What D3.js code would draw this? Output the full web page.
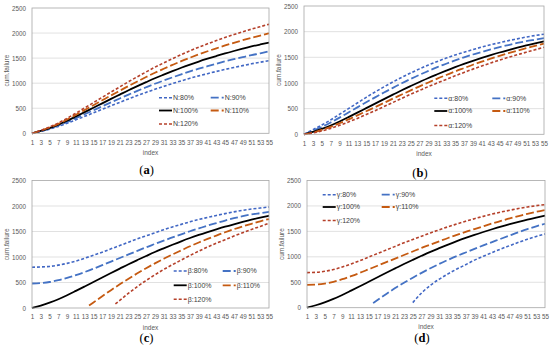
<!DOCTYPE html>
<html><head><meta charset="utf-8">
<script src="https://cdn.jsdelivr.net/npm/d3@7"></script>
<style>body{margin:0;background:#fff}svg{display:block}</style>
</head><body>
<svg id="chart" width="550" height="347"></svg>
<script>
// ---------- data ----------
const idx = [1,3,5,7,9,11,13,15,17,19,21,23,25,27,29,31,33,35,37,39,41,43,45,47,49,51,53,55];
const xTickLabels = idx;
const yTicks = [0,500,1000,1500,2000,2500];
const pctLabels = ["80%","90%","100%","110%","120%"];

// base curve (100%)
const base = [0,48,105,172,250,335,422,510,598,686,772,858,940,1020,1098,1170,1240,1308,1372,1432,1488,1542,1594,1642,1688,1732,1772,1810];

// (a) N
const n80  = [0,38,84,138,200,268,338,408,478,549,618,686,752,816,878,936,992,1046,1098,1146,1190,1234,1275,1314,1350,1386,1418,1448];
const n90  = [0,43,95,155,225,302,380,459,538,617,695,772,846,918,988,1053,1116,1177,1235,1289,1339,1388,1435,1478,1519,1559,1595,1635];
const n110 = [0,53,116,189,275,369,464,561,658,755,849,944,1034,1122,1208,1287,1364,1439,1509,1575,1637,1696,1753,1806,1857,1905,1949,1995];
const n120 = [0,58,126,206,300,402,506,612,718,823,926,1030,1128,1224,1318,1404,1488,1570,1646,1718,1786,1850,1913,1970,2026,2078,2127,2175];

// (b) alpha
const a80  = [0,90,180,280,390,500,610,720,825,925,1020,1110,1195,1275,1350,1420,1485,1545,1600,1650,1700,1745,1785,1825,1860,1895,1925,1950];
const a90  = [0,70,145,230,325,425,525,625,720,815,905,995,1080,1160,1235,1310,1375,1440,1500,1555,1605,1655,1700,1740,1780,1815,1845,1875];
const a110 = [0,35,85,145,215,290,370,450,530,612,695,775,855,935,1010,1085,1155,1225,1290,1355,1415,1475,1530,1580,1630,1680,1722,1765];
const a120 = [0,25,65,115,175,240,310,385,460,540,620,700,780,855,930,1000,1070,1140,1205,1270,1330,1390,1445,1500,1550,1600,1648,1695];

// (c) beta
const b80  = [800,805,815,840,875,920,975,1035,1095,1160,1225,1290,1355,1415,1475,1535,1590,1640,1690,1735,1775,1815,1850,1885,1915,1940,1960,1980];
const b90  = [480,490,510,545,590,645,705,770,840,910,980,1050,1120,1190,1255,1320,1385,1445,1505,1560,1615,1665,1715,1760,1800,1835,1860,1885];
const b110Idx = [14,15,17,19,21,23,25,27,29,31,33,35,37,39,41,43,45,47,49,51,53,55];
const b110 = [50,110,230,350,465,575,680,780,875,965,1050,1130,1210,1285,1355,1420,1485,1545,1600,1650,1700,1745];
const b120Idx = [20,21,23,25,27,29,31,33,35,37,39,41,43,45,47,49,51,53,55];
const b120 = [80,150,290,420,540,650,755,850,940,1030,1115,1195,1270,1340,1410,1475,1540,1600,1660];

// (d) gamma
const g80Idx = [25,27,29,31,33,35,37,39,41,43,45,47,49,51,53,55];
const g80  = [100,290,440,560,665,760,845,935,1010,1085,1155,1220,1285,1345,1400,1450];
const g90Idx = [16,17,19,21,23,25,27,29,31,33,35,37,39,41,43,45,47,49,51,53,55];
const g90  = [90,150,270,385,490,590,685,775,860,940,1015,1085,1155,1225,1290,1355,1420,1485,1545,1600,1650];
const g110 = [450,455,475,510,560,620,685,755,825,895,965,1035,1105,1175,1240,1305,1370,1430,1490,1545,1600,1655,1705,1755,1800,1845,1885,1920];
const g120 = [690,695,715,750,800,860,925,995,1065,1135,1205,1275,1340,1405,1470,1530,1590,1645,1700,1750,1795,1840,1880,1915,1950,1980,2005,2025];

// ---------- styles ----------
const styles = [
  {color:"#4167C4", dash:"3,2",  w:1.6},
  {color:"#4472C4", dash:"8,3",  w:1.8},
  {color:"#000000", dash:null,   w:1.8},
  {color:"#C55A11", dash:"8,3",  w:1.8},
  {color:"#B5402A", dash:"3,2",  w:1.6}
];

const panels = [
  {cap:"a", sym:"N", box:[32,269,8,133.3], series:[[idx,n80],[idx,n90],[idx,base],[idx,n110],[idx,n120]],
   leg:{x1:159, x2:210.7, ys:[97.7,110.5,124]}, capY:169.5, ylabX:7},
  {cap:"b", sym:"α", box:[304,544,6,134.3], series:[[idx,a80],[idx,a90],[idx,base],[idx,a110],[idx,a120]],
   leg:{x1:434.3, x2:492.3, ys:[98.3,111,125.5]}, capY:172.5, ylabX:279},
  {cap:"c", sym:"β", box:[32,269,180.5,308], series:[[idx,b80],[idx,b90],[idx,base],[b110Idx,b110],[b120Idx,b120]],
   leg:{x1:173.7, x2:222.7, ys:[271,285.3,299.3]}, capY:337.7, ylabX:7},
  {cap:"d", sym:"γ", box:[307,545,180.5,307.7], series:[[g80Idx,g80],[g90Idx,g90],[idx,base],[idx,g110],[idx,g120]],
   leg:{x1:322.7, x2:381.7, ys:[194.7,207,220.5]}, capY:337.7, ylabX:282}
];

const svg = d3.select("#chart");
const FONT = "'Liberation Sans', Arial, sans-serif";

panels.forEach(p => {
  const [L,R,T,B] = p.box;
  const x = d3.scaleLinear().domain([1,55]).range([L,R]);
  const y = d3.scaleLinear().domain([0,2500]).range([B,T]);
  const g = svg.append("g");

  // gridlines
  g.selectAll("line.grid").data(yTicks.filter(v=>v>0 && v<2500)).join("line")
    .attr("x1",L).attr("x2",R).attr("y1",d=>y(d)).attr("y2",d=>y(d))
    .attr("stroke","#D9D9D9").attr("stroke-width",0.8);

  // y axis labels
  const ya = d3.axisLeft(y).tickValues(yTicks).tickSize(0).tickPadding(6).tickFormat(d3.format("d"));
  const yg = g.append("g").attr("transform",`translate(${L},0)`).call(ya);
  yg.select(".domain").remove();
  yg.selectAll("text").attr("font-family",FONT).attr("font-size",6.3).attr("fill","#595959");

  // x axis labels
  const xa = d3.axisBottom(x).tickValues(xTickLabels).tickSize(0).tickPadding(7).tickFormat(d3.format("d"));
  const xg = g.append("g").attr("transform",`translate(0,${B})`).call(xa);
  xg.select(".domain").remove();
  xg.selectAll("text").attr("font-family",FONT).attr("font-size",6.3).attr("fill","#595959");

  // series
  const line = d3.line().x(d=>x(d[0])).y(d=>y(d[1])).curve(d3.curveMonotoneX);
  p.series.forEach((s,i) => {
    const pts = s[0].map((xi,k)=>[xi,s[1][k]]);
    const st = styles[i];
    g.append("path").datum(pts).attr("d",line).attr("fill","none")
      .attr("stroke",st.color).attr("stroke-width",st.w)
      .attr("stroke-dasharray",st.dash);
  });

  // plot border
  g.append("rect").attr("x",L).attr("y",T).attr("width",R-L).attr("height",B-T)
    .attr("fill","none").attr("stroke","#A6A6A6").attr("stroke-width",0.8);

  // legend
  const pos = [[p.leg.x1,0],[p.leg.x2,0],[p.leg.x1,1],[p.leg.x2,1],[p.leg.x1,2]];
  pos.forEach((q,i)=>{
    const st = styles[i];
    const ly = p.leg.ys[q[1]];
    g.append("line").attr("x1",q[0]).attr("x2",q[0]+13).attr("y1",ly).attr("y2",ly)
      .attr("stroke",st.color).attr("stroke-width",st.w).attr("stroke-dasharray",st.dash);
    g.append("text").attr("x",q[0]+14).attr("y",ly).attr("dy","0.35em")
      .attr("font-family",FONT).attr("font-size",7).attr("fill","#404040")
      .text(p.sym+":"+pctLabels[i]);
  });

  // axis titles
  g.append("text").attr("x",(L+R)/2).attr("y",B+19.5).attr("dy","0.35em").attr("text-anchor","middle")
    .attr("font-family",FONT).attr("font-size",6.5).attr("fill","#595959").text("index");
  g.append("text").attr("transform",`translate(${p.ylabX},${(T+B)/2}) rotate(-90)`).attr("dy","0.35em")
    .attr("text-anchor","middle").attr("font-family",FONT).attr("font-size",6.5).attr("fill","#595959").text("cum.failure");

  // caption
  const cap = g.append("text").attr("x",(L+R)/2 - 4).attr("y",p.capY).attr("dy","0.35em").attr("text-anchor","middle")
    .attr("font-family","'Liberation Serif', 'Times New Roman', serif").attr("font-size",12.5).attr("fill","#000");
  cap.append("tspan").text("(");
  cap.append("tspan").attr("font-weight","bold").text(p.cap);
  cap.append("tspan").text(")");
});
</script>
</body></html>
